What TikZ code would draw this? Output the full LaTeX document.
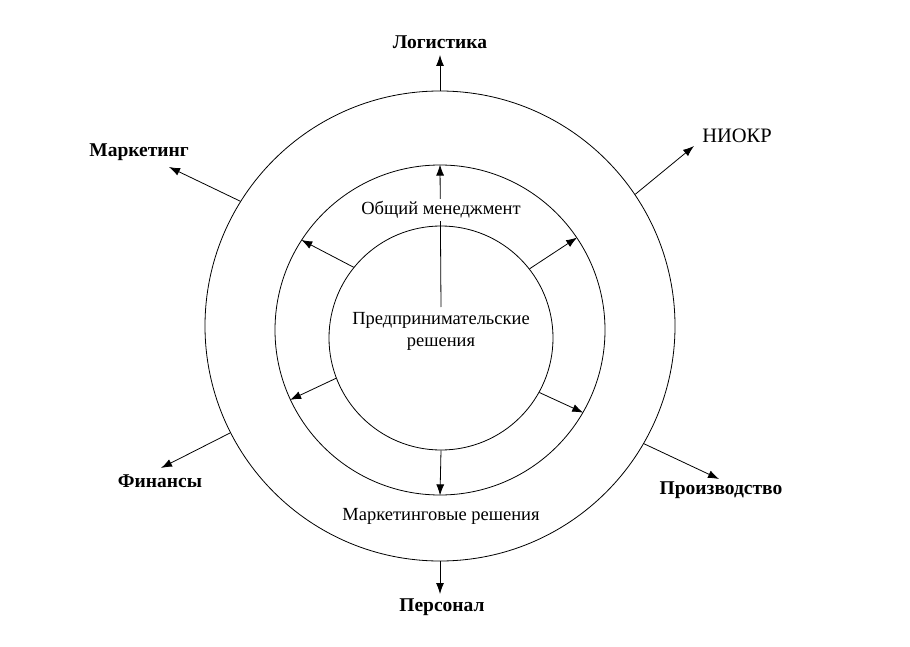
\documentclass[tikz,border=0pt]{standalone}
\usepackage{fontspec}
\setmainfont{Liberation Serif}
\usetikzlibrary{arrows.meta}
\begin{document}
\begin{tikzpicture}[x=1pt,y=-1pt,
  ring/.style={circle,draw,line width=0.8pt,inner sep=0pt},
  arr/.style={line width=0.8pt,-{Latex[length=11pt,width=8pt]}},
  inlabel/.style={font=\fontsize{18.5}{22}\selectfont,align=center,inner sep=1pt},
  outlabel/.style={font=\fontsize{19.5}{23}\selectfont\bfseries,inner sep=0pt}]
\useasboundingbox (0,0) rectangle (910,647);
\node[ring,minimum size=470pt] (outer) at (440,326) {};
\node[ring,minimum size=330pt] (middle) at (440,330) {};
\node[ring,minimum size=224pt] (inner) at (441,338) {};
% central text
\node[inlabel] (pred) at (441,331) {Предпринимательские\\решения};
\node[inlabel] (mrk) at (441,516) {Маркетинговые решения};
% inner arrows
\coordinate (vstart) at (441,307);
\draw[arr] (vstart) -- (middle.90);
\node[inlabel,fill=white,inner sep=2pt] (mgmt) at (441,210) {Общий менеджмент};
\draw[arr] (inner.270) -- (middle.270);
\draw[arr] (inner.141) -- (middle.147);
\draw[arr] (inner.38) -- (middle.34);
\draw[arr] (inner.201) -- (middle.205);
\draw[arr] (inner.331) -- (middle.330.5);
% outer labels
\node[outlabel] (log) at (440,42) {Логистика};
\node[outlabel] (mark) at (139,152) {Маркетинг};
\node[font=\fontsize{20.5}{24}\selectfont,inner sep=0pt] (niokr) at (737,136) {НИОКР};
\node[outlabel] (fin) at (160,481) {Финансы};
\node[outlabel] (prod) at (721,490) {Производство};
\node[outlabel] (pers) at (442,607) {Персонал};
% outer arrow ends
\coordinate (elog) at (440,55);
\coordinate (emark) at (169,167);
\coordinate (eniokr) at (694,146);
\coordinate (efin) at (161,468);
\coordinate (eprod) at (719,479);
\coordinate (epers) at (440,594);
\draw[arr] (outer.90) -- (elog);
\draw[arr] (outer.148) -- (emark);
\draw[arr] (outer.34.4) -- (eniokr);
\draw[arr] (outer.207) -- (efin);
\draw[arr] (outer.330) -- (eprod);
\draw[arr] (outer.270) -- (epers);
\end{tikzpicture}
\end{document}
